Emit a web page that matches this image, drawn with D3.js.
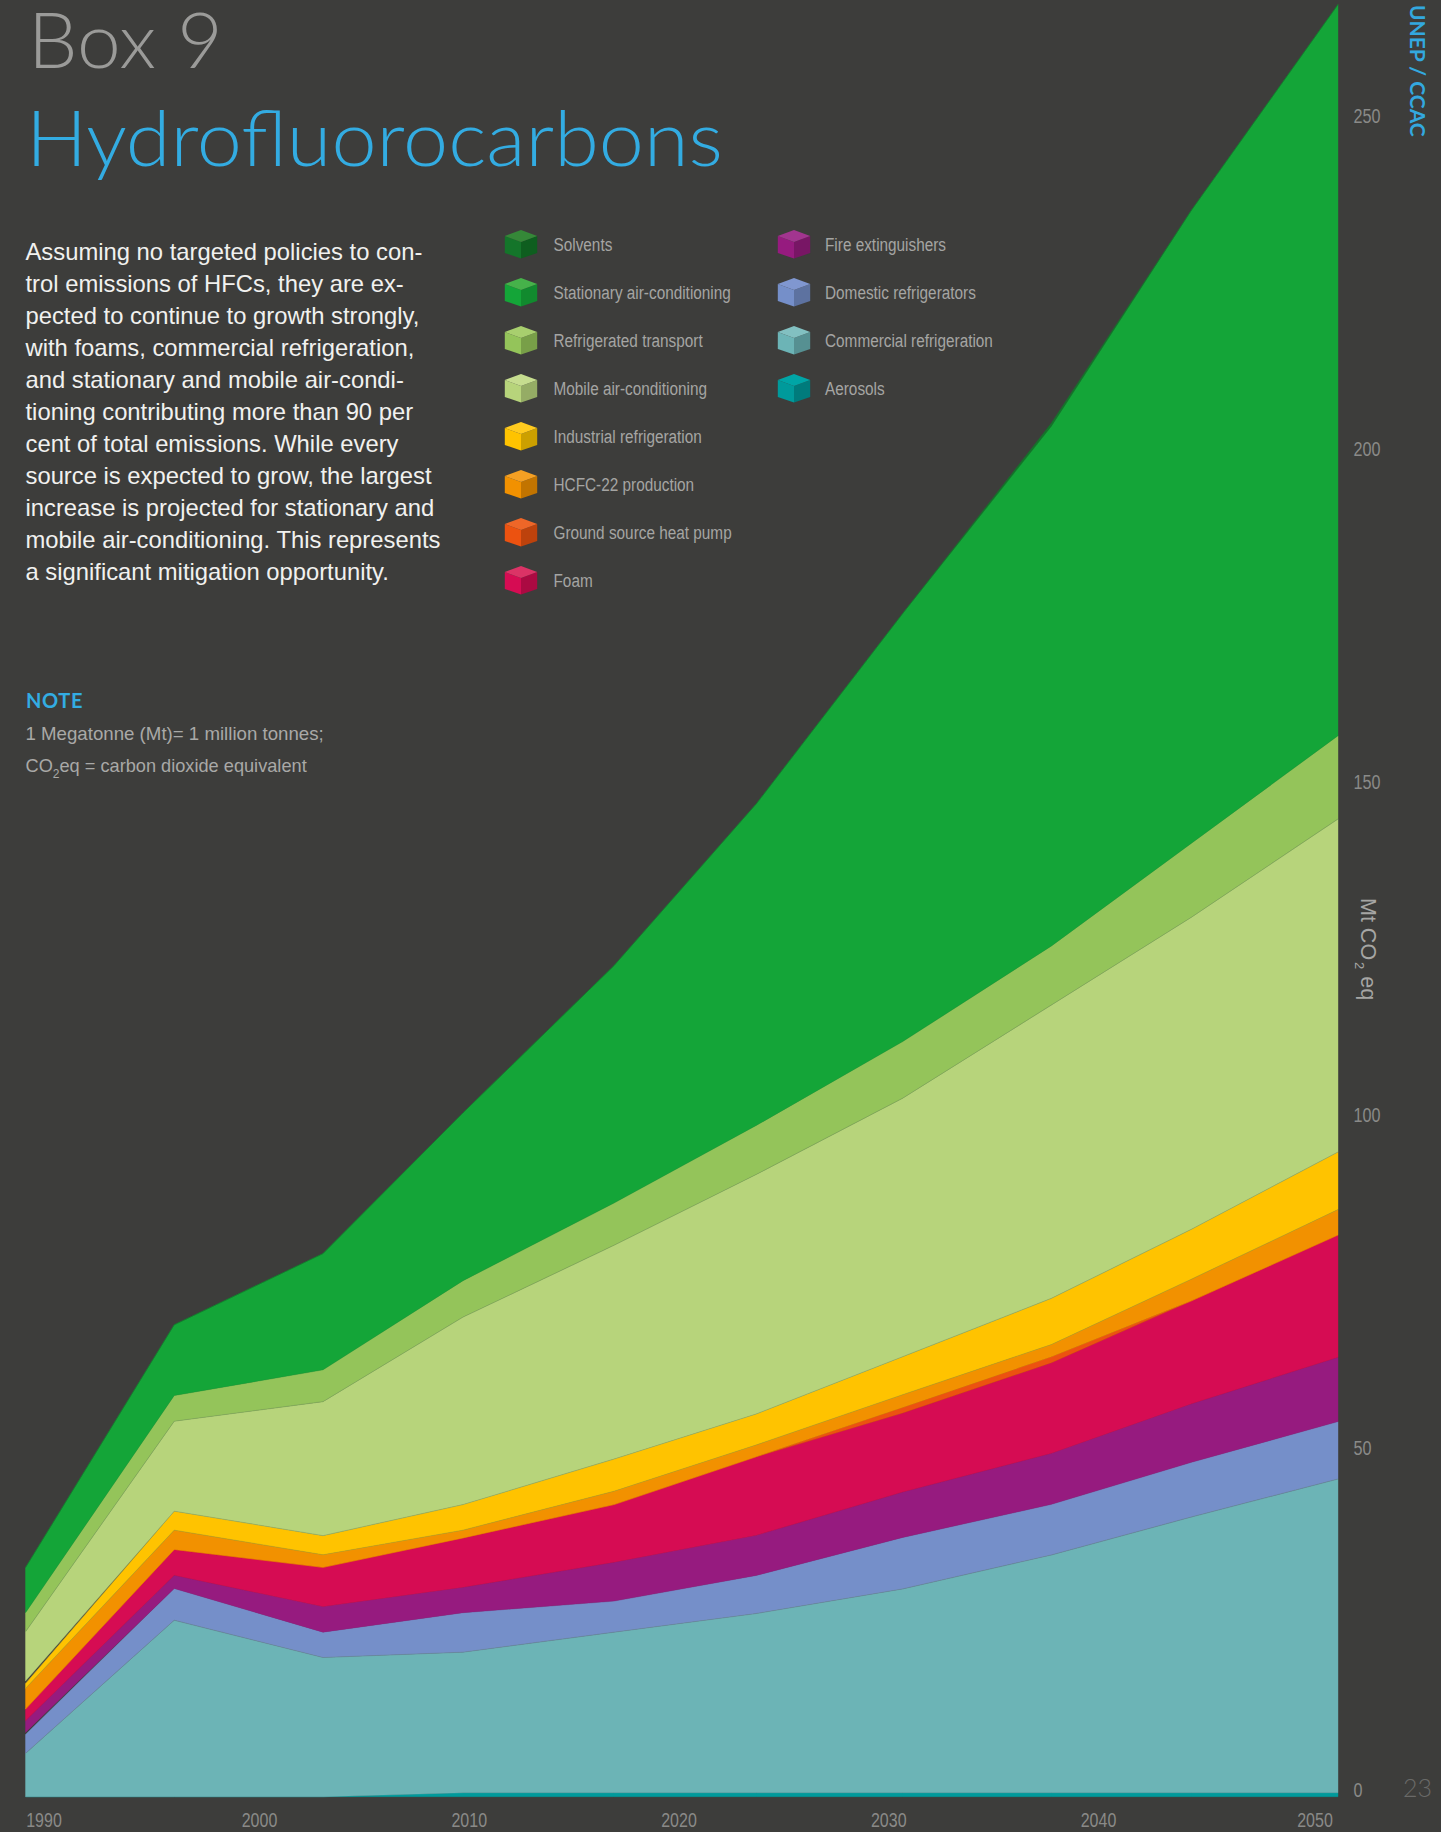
<!DOCTYPE html>
<html><head><meta charset="utf-8">
<script src="https://cdnjs.cloudflare.com/ajax/libs/d3/7.8.5/d3.min.js"></script>
<style>
html,body{margin:0;padding:0;background:#3d3d3b;overflow:hidden}
svg{display:block}
.narrow{font-family:"Liberation Sans",sans-serif}
.body{font-family:"Liberation Sans",sans-serif}
.geo{font-family:Lato,sans-serif}
</style></head><body><svg id="c" width="1441" height="1832"></svg>
<script>
const pointYears=[1990,1996.8,2003.6,2010,2016.9,2023.4,2030.1,2036.9,2043.3,2050];
const aerosols=[0,0,0,0.6,0.6,0.6,0.6,0.6,0.6,0.6];
const commercial=[6.5,26.5,20.9,21.1,24.1,26.9,30.6,35.7,41.4,47.1];
const domestic=[2.85,4.76,3.81,5.93,4.67,5.72,7.73,7.6,8.21,8.62];
const gapLower=[0.3,0,0,0,0,0,0,0,0,0];
const fire=[1.74,2,3.84,3.83,5.84,6.02,6.83,7.67,8.8,9.67];
const foam=[1.76,3.86,5.89,7.4,8.65,11.8,11.86,13.6,15.44,18.35];
const ground=[0,0,0,0,0,0,0.83,0.89,0,0];
const hcfc=[3.11,2.9,1.88,1.16,2,1.77,1.91,1.83,3.26,3.81];
const industrial=[0.75,2.85,2.88,3.84,4.83,4.65,5.71,6.94,7.49,8.65];
const gapUpper=[0.35,0,0,0,0,0,0,0,0,0];
const mobile=[7.4,13.51,20.12,28.15,32.1,35.96,38.81,44.05,46.85,50];
const transport=[2.85,3.86,4.77,5.47,6.34,7.36,8.5,8.86,11.11,12.51];
const stationary=[6.79,10.63,17.46,25.2,35.65,48.27,64.28,78.08,95.05,109.79];
const solvents=[0,0,0,0,0,0,0,0.45,0,0];

const xTicks=[1990,2000,2010,2020,2030,2040,2050];
const yTicks=[0,50,100,150,200,250];
const legendCol1=["Solvents","Stationary air-conditioning","Refrigerated transport","Mobile air-conditioning","Industrial refrigeration","HCFC-22 production","Ground source heat pump","Foam"];
const legendCol2=["Fire extinguishers","Domestic refrigerators","Commercial refrigeration","Aerosols"];
const bodyLines=["Assuming no targeted policies to con-","trol emissions of HFCs, they are ex-","pected to continue to growth strongly,","with foams, commercial refrigeration,","and stationary and mobile air-condi-","tioning contributing more than 90 per","cent of total emissions. While every","source is expected to grow, the largest","increase is projected for stationary and","mobile air-conditioning. This represents","a significant mitigation opportunity."];

const palette={
 "Solvents":["#14752a","#358838","#0e5e1f"],
 "Stationary air-conditioning":["#14a538","#46b24a","#118a2e"],
 "Refrigerated transport":["#94c45a","#a8cf6e","#789f48"],
 "Mobile air-conditioning":["#b7d47b","#c6dd8f","#95ac65"],
 "Industrial refrigeration":["#ffc300","#ffcb1f","#cca000"],
 "HCFC-22 production":["#f29100","#f5a023","#c27400"],
 "Ground source heat pump":["#ec5210","#ee6628","#bd420c"],
 "Foam":["#d60c53","#db3366","#ab0a42"],
 "Fire extinguishers":["#961b7f","#a2358f","#781665"],
 "Domestic refrigerators":["#758fc9","#8097d0","#5d72a0"],
 "Commercial refrigeration":["#6cb4b6","#82c0c1","#569092"],
 "Aerosols":["#009a9b","#00a5a6","#007b7c"]};

const series=[["Aerosols",aerosols],["Commercial refrigeration",commercial],["Domestic refrigerators",domestic],["gapLower",gapLower],["Fire extinguishers",fire],["Foam",foam],["Ground source heat pump",ground],["HCFC-22 production",hcfc],["Industrial refrigeration",industrial],["gapUpper",gapUpper],["Mobile air-conditioning",mobile],["Refrigerated transport",transport],["Stationary air-conditioning",stationary],["Solvents",solvents]];
const edged=new Set(["Commercial refrigeration","Industrial refrigeration","Mobile air-conditioning","HCFC-22 production"]);

function condense(sel,f){
  sel.each(function(){
    const l=this.getComputedTextLength();
    d3.select(this).attr("textLength",l*f).attr("lengthAdjust","spacingAndGlyphs");
  });
}

const svg=d3.select("#c");
svg.append("rect").attr("width",1441).attr("height",1832).attr("fill","#3d3d3b");

const xScale=d3.scaleLinear().domain([1990,2050]).range([25.5,1338]);
const yScale=d3.scaleLinear().domain([0,250]).range([1796.7,131.7]);
const tickX=d3.scaleLinear().domain([1990,2000,2040,2050]).range([43.5,259,1098,1314.5]);

const rows=pointYears.map((yr,i)=>{const o={year:yr};series.forEach(([k,v])=>o[k]=v[i]);return o;});
const stacked=d3.stack().keys(series.map(s=>s[0]))(rows);
const areaGen=d3.area().x(d=>xScale(d.data.year)).y0(d=>yScale(d[0])).y1(d=>yScale(d[1]));
const topEdge=d3.line().x(d=>xScale(d.data.year)).y(d=>yScale(d[1]));
const plot=svg.append("g");
plot.selectAll("path.a").data(stacked.filter(s=>palette[s.key])).join("path").attr("class","a")
  .attr("d",areaGen).attr("fill",d=>palette[d.key][0])
  .attr("stroke",d=>palette[d.key][0]).attr("stroke-width",0.4);
plot.selectAll("path.e").data(stacked.filter(s=>edged.has(s.key))).join("path").attr("class","e")
  .attr("d",topEdge).attr("fill","none").attr("stroke","#5f7f5a").attr("stroke-opacity",.4).attr("stroke-width",.7);

// axes
const ax=svg.append("g").attr("transform","translate(0,1800)")
  .call(d3.axisBottom(tickX).tickValues(xTicks).tickFormat(d3.format("d")).tickSize(0).tickPadding(0));
ax.select(".domain").remove();
ax.selectAll("text").attr("y",26.7).attr("dy",0).attr("font-size",19.5).attr("fill","#8a8a88").style("font-family",'"Liberation Sans"').call(condense,.82);

const ay=svg.append("g").attr("transform","translate(1353.5,0)")
  .call(d3.axisRight(yScale).tickValues(yTicks).tickSize(0).tickPadding(0));
ay.select(".domain").remove();
ay.selectAll("text").attr("x",0).attr("dy",0).attr("y",d=>d===0?0:-9).attr("font-size",19.5).attr("fill","#8a8a88").style("font-family",'"Liberation Sans"').call(condense,.83);

// titles
const titles=svg.append("g").attr("class","geo");
titles.append("text").attr("x",28).attr("y",68).text("Box 9").attr("font-size",77).attr("font-weight",300).attr("fill","#9b9b99").call(condense,1.02);
titles.append("text").attr("x",26).attr("y",166).text("Hydrofluorocarbons").attr("font-size",77).attr("font-weight",300).attr("fill","#33ace2").call(condense,1.052);

// body
svg.append("g").attr("class","body").selectAll("text").data(bodyLines).join("text")
  .attr("x",25.5).attr("y",(d,i)=>260+i*32).attr("font-size",23.8).attr("fill","#f1f1ef").text(d=>d);

// note
svg.append("text").attr("class","geo").attr("x",26).attr("y",707.5).attr("font-size",20).attr("font-weight",700).attr("letter-spacing",.6).attr("fill","#33ace2").text("NOTE");
svg.append("text").attr("class","body").attr("x",25.5).attr("y",740).attr("font-size",18.2).attr("fill","#a9a9a7").text("1 Megatonne (Mt)= 1 million tonnes;").call(condense,1.026);
const n2=svg.append("text").attr("class","body").attr("x",25.5).attr("y",772).attr("font-size",18.2).attr("fill","#a9a9a7");
n2.append("tspan").text("CO");
n2.append("tspan").text("2").attr("font-size",12).attr("dy",6);
n2.append("tspan").text("eq = carbon dioxide equivalent").attr("dy",-6);

// legend
function cube(g,label){
  const [c,tc,rc]=palette[label];
  const W=16.2;
  g.append("path").attr("d",`M${-W},6 L0,12 L0,28.5 L${-W},23 Z`).attr("fill",c);
  g.append("path").attr("d",`M${W},6 L0,12 L0,28.5 L${W},23 Z`).attr("fill",rc);
  g.append("path").attr("d",`M0,0 L${W},6 L0,12 L${-W},6 Z`).attr("fill",tc);
}
[[legendCol1,521,553.5],[legendCol2,794,825]].forEach(([labels,cx,tx])=>{
  labels.forEach((n,i)=>{
    const g=svg.append("g").attr("transform",`translate(${cx},${230+i*48})`);
    cube(g,n);
    svg.append("text").attr("class","narrow").attr("x",tx).attr("y",251+i*48).attr("font-size",18).attr("fill","#a5a5a3").text(n).call(condense,.852);
  });
});

// rotated labels
const rot=svg.append("text").attr("class","body").attr("transform","translate(1360.7,898) rotate(90)").attr("font-size",21.5).attr("fill","#a6a6a4");
rot.append("tspan").text("Mt CO");
rot.append("tspan").text("2").attr("font-size",13).attr("dy",6).attr("dx",2);
rot.append("tspan").text("eq").attr("dy",-6).attr("dx",7);
svg.append("text").attr("class","geo").attr("transform","translate(1410,5) rotate(90)").attr("font-size",21).attr("font-weight",700).attr("fill","#33a8df").text("UNEP / CCAC");
svg.append("text").attr("class","geo").attr("x",1403).attr("y",1797).attr("font-size",25).attr("font-weight",300).attr("fill","#6a6a68").text("23");
</script></body></html>
